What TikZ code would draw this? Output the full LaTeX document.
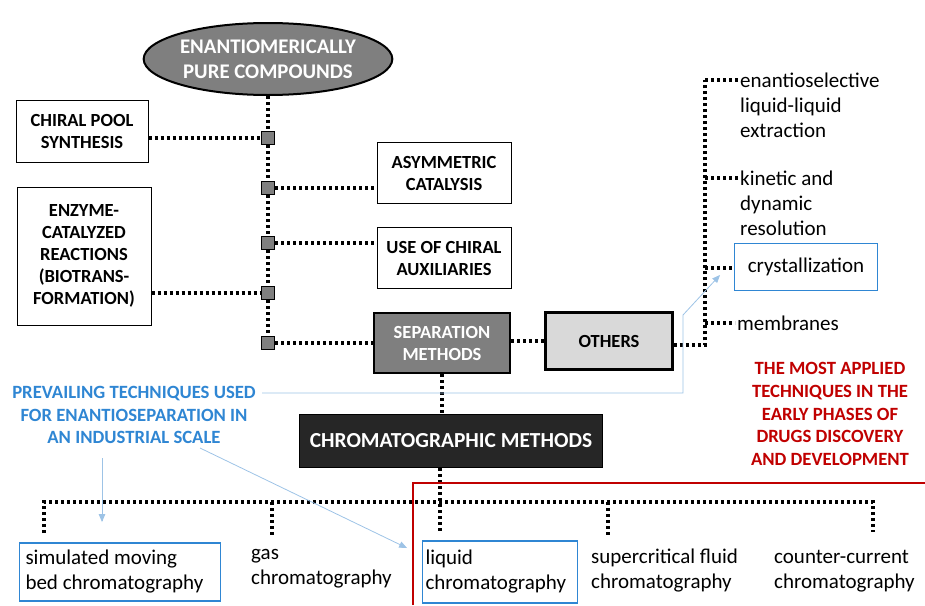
\documentclass[tikz,border=0pt]{standalone}
\usepackage{fontspec}
\setmainfont{Carlito}
\usepackage{tikz}
\usetikzlibrary{arrows,shapes.geometric}
\definecolor{midgray}{HTML}{7F7F7F}
\definecolor{lightgray}{HTML}{D9D9D9}
\definecolor{darkbox}{HTML}{262626}
\definecolor{pickblue}{HTML}{2F86D3}
\definecolor{noteblue}{HTML}{9DC3E6}
\definecolor{notered}{HTML}{C00000}

\begin{document}
\begin{tikzpicture}[x=1pt, y=-1pt,
  dots/.style={line width=3.2pt, dash pattern=on 3pt off 3pt},
  capbox/.style={draw, line width=1pt, align=center, inner sep=0pt,
    font=\bfseries\fontsize{18.5}{22}\selectfont},
  hub/.style={draw, fill=midgray, line width=1.4pt, minimum size=13pt, inner sep=0pt},
  item/.style={anchor=west, align=flush left, inner sep=2pt, font=\fontsize{21}{25}\selectfont},
  pick/.style={draw=pickblue, line width=1.6pt},
  pointer/.style={draw=noteblue, line width=0.8pt, -triangle 45}]
  \useasboundingbox (0,0) rectangle (925,605);

  \node[ellipse, draw, line width=2pt, fill=midgray, text=white, inner sep=0pt,
        minimum width=190pt, minimum height=72pt, align=center,
        font=\bfseries\fontsize{20.8}{25}\selectfont] (epc) at (268,59)
        {ENANTIOMERICALLY\\PURE COMPOUNDS};

  \node[hub] (h1) at (268,138) {};
  \node[hub] (h2) at (268,188) {};
  \node[hub] (h3) at (268,243) {};
  \node[hub] (h4) at (268,293) {};
  \node[hub] (h5) at (268,343) {};

  \node[capbox, minimum width=132pt, minimum height=62pt] (chiral) at (82,131) {CHIRAL POOL\\SYNTHESIS};
  \node[capbox, minimum width=134pt, minimum height=138pt] (enzyme) at (84,256)
        {ENZYME-\\CATALYZED\\REACTIONS\\(BIOTRANS-\\FORMATION)};
  \node[capbox, minimum width=134pt, minimum height=61pt] (asym) at (444,173) {ASYMMETRIC\\CATALYSIS};
  \node[capbox, minimum width=134pt, minimum height=61pt] (aux) at (444,258) {USE OF CHIRAL\\AUXILIARIES};
  \node[capbox, line width=2.5pt, fill=midgray, text=white, minimum width=136pt, minimum height=60pt]
        (sep) at (442,343) {SEPARATION\\METHODS};
  \node[capbox, line width=2.5pt, fill=lightgray, minimum width=127pt, minimum height=57pt]
        (others) at (609,341) {OTHERS};
  \node[capbox, fill=darkbox, text=white, minimum width=303pt, minimum height=53pt,
        font=\bfseries\fontsize{21.4}{22}\selectfont] (chrom) at (451,441) {CHROMATOGRAPHIC METHODS};

  \node[item] (ext) at (738,105) {enantioselective\\liquid-liquid\\extraction};
  \node[item] (kin) at (738,203) {kinetic and\\dynamic\\resolution};
  \node[item, pick, minimum width=143pt, minimum height=47pt, anchor=center] (cryst) at (806,267) {crystallization};
  \node[item] (mem) at (735,323) {membranes};

  \coordinate (sbot) at (705,345);
  \coordinate (b1) at (705,80);
  \coordinate (b2) at (705,178);
  \coordinate (b3) at (705,268);
  \coordinate (b4) at (705,323);

  \node[item, pick, minimum width=201pt, minimum height=58pt, text width=189pt, anchor=center]
        (smb) at (120,572) {simulated moving\\bed chromatography};
  \node[item] (gas) at (249,569) {gas\\chromatography};
  \node[item, pick, minimum width=155pt, minimum height=62pt, text width=149pt, anchor=center]
        (lc) at (500,572) {liquid\\chromatography};
  \node[item] (sfc) at (589,571) {supercritical fluid\\chromatography};
  \node[item] (ccc) at (772,571) {counter-current\\chromatography};

  \coordinate (busL) at (44,502);
  \coordinate (busR) at (873,502);
  \coordinate (d1) at (44,533);
  \coordinate (d2) at (272,535);
  \coordinate (d3) at (440,533);
  \coordinate (d4) at (608,535);
  \coordinate (d5) at (873,532);

  \node[align=center, text=pickblue, font=\bfseries\fontsize{18.7}{22.5}\selectfont] (prev) at (134,415)
        {PREVAILING TECHNIQUES USED\\FOR ENANTIOSEPARATION IN\\AN INDUSTRIAL SCALE};
  \node[align=center, text=notered, font=\bfseries\fontsize{18.7}{22.7}\selectfont] (most) at (830,414)
        {THE MOST APPLIED\\TECHNIQUES IN THE\\EARLY PHASES OF\\DRUGS DISCOVERY\\AND DEVELOPMENT};

  \draw[dots] (epc) -- (h1) -- (h2) -- (h3) -- (h4) -- (h5);
  \draw[dots] (chiral.east |- h1) -- (h1);
  \draw[dots] (h2) -- (asym.west |- h2);
  \draw[dots] (h3) -- (aux.west |- h3);
  \draw[dots] (enzyme.east |- h4) -- (h4);
  \draw[dots] (h5) -- (sep);
  \draw[dots] (sep.east |- others) -- (others);
  \draw[dots] (others.east |- sbot) -- (sbot) -- (b1);
  \draw[dots] (b1) -- (b1 -| ext.west);
  \draw[dots] (b2) -- (b2 -| kin.west);
  \draw[dots] (b3) -- (b3 -| cryst.west);
  \draw[dots] (b4) -- (mem.west);
  \draw[dots] (sep.south) -- (sep.south |- chrom.north);
  \draw[dots] (d3 |- chrom.south) -- (d3);
  \draw[dots] (d1) -- (busL) -- (busR) -- (d5);
  \draw[dots] (d2 |- busL) -- (d2);
  \draw[dots] (d4 |- busL) -- (d4);

  \draw[notered, line width=2.5pt] (413,605) -- (413,483) -- (925,483);

  \draw[pointer] (262,393) -- (683,393) -- (683,315) -- (720,275);
  \draw[pointer] (102,458) -- (102,522);
  \draw[pointer] (200,448) -- (407,548);
\end{tikzpicture}
\end{document}
